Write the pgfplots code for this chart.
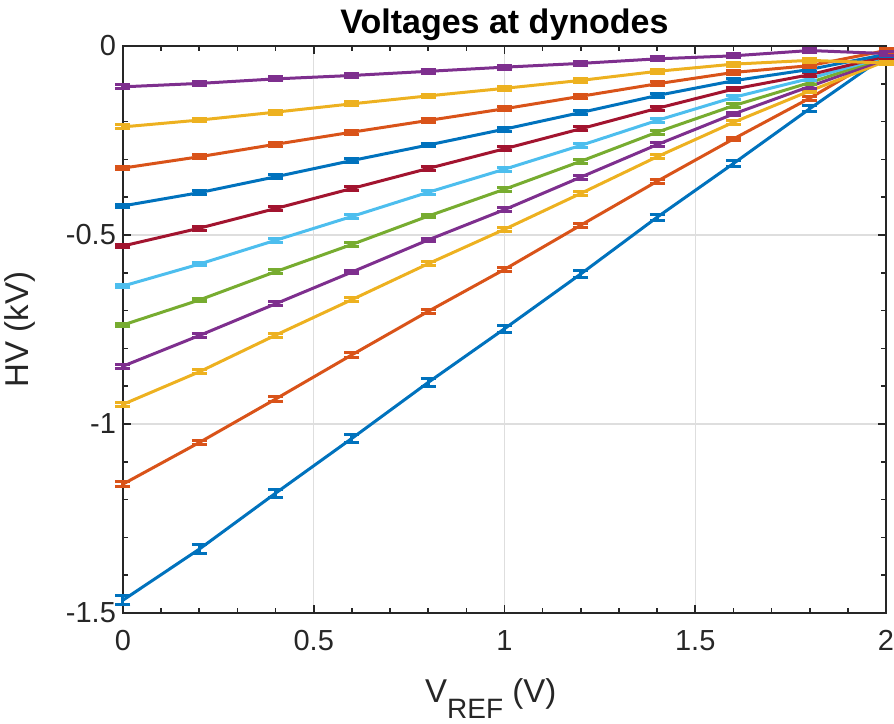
\documentclass[border=0pt]{standalone}
\usepackage{fontspec}
\setmainfont{Liberation Sans}
\usepackage{pgfplots}
\usepackage{pgfplotstable}
\pgfplotsset{compat=1.18}

% MATLAB default line colours
\definecolor{mblue}{RGB}{0,114,189}
\definecolor{morange}{RGB}{217,83,25}
\definecolor{myellow}{RGB}{237,177,32}
\definecolor{mpurple}{RGB}{126,47,142}
\definecolor{mgreen}{RGB}{119,172,48}
\definecolor{mcyan}{RGB}{77,190,238}
\definecolor{mred}{RGB}{162,20,47}
\definecolor{axgray}{RGB}{38,38,38}

% dynode voltages (kV) vs V_REF (V); e1, e2, ec = error bar half widths
\pgfplotstableread{
x   y1     e1     y2     e2     y3     y4     y5     y6     y7     y8     y9     y10    y11    ec
0.0 -1.466 0.0115 -1.159 0.0065 -0.948 -0.847 -0.738 -0.635 -0.529 -0.423 -0.323 -0.214 -0.108 0.005
0.2 -1.331 0.0120 -1.049 0.0065 -0.862 -0.766 -0.672 -0.577 -0.482 -0.388 -0.293 -0.196 -0.099 0.005
0.4 -1.183 0.0110 -0.934 0.0060 -0.765 -0.682 -0.597 -0.514 -0.430 -0.346 -0.260 -0.175 -0.087 0.005
0.6 -1.038 0.0105 -0.817 0.0060 -0.671 -0.598 -0.525 -0.451 -0.377 -0.303 -0.228 -0.153 -0.078 0.005
0.8 -0.890 0.0100 -0.702 0.0060 -0.576 -0.513 -0.450 -0.387 -0.324 -0.262 -0.197 -0.132 -0.067 0.005
1.0 -0.748 0.0097 -0.591 0.0055 -0.485 -0.433 -0.379 -0.326 -0.272 -0.220 -0.166 -0.112 -0.056 0.005
1.2 -0.603 0.0090 -0.474 0.0055 -0.390 -0.347 -0.305 -0.263 -0.219 -0.176 -0.133 -0.091 -0.046 0.005
1.4 -0.453 0.0085 -0.358 0.0055 -0.293 -0.261 -0.228 -0.197 -0.165 -0.131 -0.100 -0.067 -0.034 0.005
1.6 -0.311 0.0080 -0.246 0.0050 -0.202 -0.180 -0.158 -0.136 -0.114 -0.092 -0.070 -0.048 -0.026 0.005
1.8 -0.166 0.0075 -0.138 0.0050 -0.119 -0.107 -0.097 -0.086 -0.076 -0.062 -0.052 -0.038 -0.012 0.005
2.0 -0.025 0.0070 -0.020 0.0050 -0.040 -0.035 -0.030 -0.028 -0.027 -0.022 -0.012 -0.045 -0.020 0.005
}\dynodes

\pgfplotsset{
  dyn/.style={line width=1.5pt, mark=none,
    error bars/y dir=both, error bars/y explicit, error bars/error mark=-,
    error bars/error bar style={line width=1.5pt},
    error bars/error mark options={rotate=90, line width=1.5pt, mark size=3.75pt}},
}

\begin{document}
\begin{tikzpicture}
\begin{axis}[
  scale only axis,
  width=381.5pt, height=283.5pt,
  xmin=0, xmax=2, ymin=-1.5, ymax=0,
  xtick={0,0.5,1,1.5,2}, xticklabels={0,0.5,1,1.5,2},
  ytick={-1.5,-1,-0.5,0}, yticklabels={-1.5,-1,-0.5,0},
  minor x tick num=4, minor y tick num=4,
  tick align=inside,
  major tick length=4pt, minor tick length=2.5pt,
  tick style={draw=axgray, line width=0.8pt},
  axis line style={draw=axgray, line width=0.8pt},
  grid=major,
  major grid style={draw=black!13, line width=0.6pt},
  every tick label/.append style={font=\fontsize{14.5}{16}\selectfont, text=axgray},
  xticklabel style={yshift=-5pt},
  title={\fontsize{17}{19}\selectfont\bfseries Voltages at dynodes},
  title style={at={(axis description cs:0.5,1)}, anchor=base},
  xlabel={V\raisebox{-8pt}{\fontsize{14}{14}\selectfont REF} (V)},
  xlabel style={at={(axis description cs:0.482,-0.157)}, anchor=base,
    font=\fontsize{16.5}{18}\selectfont, text=axgray},
  ylabel={HV (kV)},
  ylabel style={at={(axis description cs:-0.135,0.5)}, anchor=center,
    font=\fontsize{16.5}{18}\selectfont, text=axgray},
  clip=false,
]
\addplot[dyn, mblue]   table[x=x, y=y1,  y error=e1] {\dynodes};
\addplot[dyn, morange] table[x=x, y=y2,  y error=e2] {\dynodes};
\addplot[dyn, myellow] table[x=x, y=y3,  y error=ec] {\dynodes};
\addplot[dyn, mpurple] table[x=x, y=y4,  y error=ec] {\dynodes};
\addplot[dyn, mgreen]  table[x=x, y=y5,  y error=ec] {\dynodes};
\addplot[dyn, mcyan]   table[x=x, y=y6,  y error=ec] {\dynodes};
\addplot[dyn, mred]    table[x=x, y=y7,  y error=ec] {\dynodes};
\addplot[dyn, mblue]   table[x=x, y=y8,  y error=ec] {\dynodes};
\addplot[dyn, morange] table[x=x, y=y9,  y error=ec] {\dynodes};
\addplot[dyn, myellow] table[x=x, y=y10, y error=ec] {\dynodes};
\addplot[dyn, mpurple] table[x=x, y=y11, y error=ec] {\dynodes};
\end{axis}
\pgfresetboundingbox
\path[use as bounding box] (-61.5pt,-55pt) rectangle (385.5pt,306.5pt);
\end{tikzpicture}
\end{document}
